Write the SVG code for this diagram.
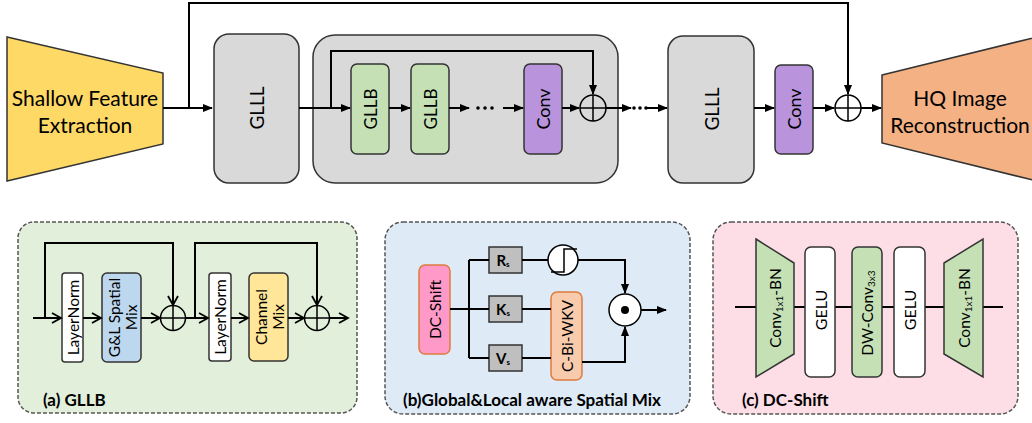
<svg xmlns="http://www.w3.org/2000/svg" width="1032" height="423" viewBox="0 0 1032 423">
<defs>
<marker id="ah" markerWidth="10" markerHeight="8" refX="9" refY="4" orient="auto" markerUnits="userSpaceOnUse"><path d="M0,0 L10,4 L0,8 z" fill="#000"/></marker>
<marker id="chev" markerWidth="12" markerHeight="12" refX="10" refY="6" orient="auto" markerUnits="userSpaceOnUse"><path d="M1,1 L10,6 L1,11" fill="none" stroke="#000" stroke-width="1.8"/></marker>
<style>
.ln{fill:none;stroke:#000;stroke-width:2}
.box{stroke:#333;stroke-width:1.5}
.t{font-family:Lato,"Open Sans",sans-serif;fill:#000;text-anchor:middle;dominant-baseline:central}
.lab{font-family:Lato,"Open Sans",sans-serif;font-weight:bold;fill:#000;font-size:17px}
.panel{stroke:#555;stroke-width:1.5;stroke-dasharray:4,2}
.gray{fill:#D9D9D9}
.green{fill:#C5E0B4}
.purple{fill:#B994DC}
.circ{fill:none;stroke:#000;stroke-width:1.5}
</style>
</defs>

<!-- top row -->
<g id="shallow"><polygon points="7,37 163,73 163,144 7,181" fill="#FFD966" class="box"/>
<text class="t" x="85" y="97" font-size="21">Shallow Feature</text>
<text class="t" x="85" y="124" font-size="21">Extraction</text></g>
<g id="glll1"><rect x="214" y="34" width="85" height="149" rx="15" class="box gray"/>
<text class="t" font-size="19" transform="translate(256,108) rotate(-90)">GLLL</text></g>
<g id="group"><rect x="313" y="35" width="305" height="148" rx="22" class="box gray"/></g>
<g id="gllb1"><rect x="351" y="64" width="38" height="90" rx="6" class="box green"/>
<text class="t" font-size="17" transform="translate(370,109) rotate(-90)">GLLB</text></g>
<g id="gllb2"><rect x="411" y="64" width="38" height="90" rx="6" class="box green"/>
<text class="t" font-size="17" transform="translate(430,109) rotate(-90)">GLLB</text></g>
<g id="conv1"><rect x="524" y="64" width="38" height="90" rx="6" class="box purple"/>
<text class="t" font-size="18" transform="translate(543,109) rotate(-90)">Conv</text></g>
<g id="glll2"><rect x="668" y="36" width="86" height="147" rx="15" class="box gray"/>
<text class="t" font-size="19" transform="translate(711,109) rotate(-90)">GLLL</text></g>
<g id="conv2"><rect x="775" y="65" width="38" height="89" rx="6" class="box purple"/>
<text class="t" font-size="18" transform="translate(794,109) rotate(-90)">Conv</text></g>
<g id="hq"><polygon points="882,75 1045,35 1045,183 882,143" fill="#F4B183" class="box"/>
<text class="t" x="960" y="97" font-size="21">HQ Image</text>
<text class="t" x="960" y="124" font-size="21">Reconstruction</text></g>
<g id="add1"><circle cx="593" cy="108" r="13" class="circ"/><path d="M580,108 H606 M593,95 V121" stroke="#000" stroke-width="1.5"/></g>
<g id="add2"><circle cx="848" cy="108" r="13" class="circ"/><path d="M835,108 H861 M848,95 V121" stroke="#000" stroke-width="1.5"/></g>

<g id="connectors-top">
<path class="ln" d="M163,108 H212" marker-end="url(#ah)"/>
<path class="ln" d="M189,108 V3 H848 V94" marker-end="url(#ah)"/>
<path class="ln" d="M299,108 H350" marker-end="url(#ah)"/>
<path class="ln" d="M331,108 V51 H593 V94" marker-end="url(#ah)"/>
<path class="ln" d="M389,108 H410" marker-end="url(#ah)"/>
<path class="ln" d="M449,108 H469" marker-end="url(#ah)"/>
<circle cx="478" cy="108" r="1.8"/><circle cx="485" cy="108" r="1.8"/><circle cx="492" cy="108" r="1.8"/>
<path class="ln" d="M503,108 H523" marker-end="url(#ah)"/>
<path class="ln" d="M562,108 H579" marker-end="url(#ah)"/>
<path class="ln" d="M606,108 H631" marker-end="url(#ah)"/>
<circle cx="634" cy="108" r="1.8"/><circle cx="640" cy="108" r="1.8"/><circle cx="646" cy="108" r="1.8"/>
<path class="ln" d="M646,108 H667" marker-end="url(#ah)"/>
<path class="ln" d="M754,108 H774" marker-end="url(#ah)"/>
<path class="ln" d="M813,108 H834" marker-end="url(#ah)"/>
<path class="ln" d="M861,108 H881" marker-end="url(#ah)"/>
</g>

<!-- panel a -->
<g id="panel-a"><rect x="18" y="222" width="339" height="191" rx="16" fill="#E2EFDA" class="panel"/>
<text class="lab" x="43" y="406">(a) GLLB</text></g>
<g id="ln1"><rect x="62" y="273" width="21" height="89" rx="3" fill="#fff" class="box"/>
<text class="t" font-size="15.5" transform="translate(72.5,317.5) rotate(-90)">LayerNorm</text></g>
<g id="glmix"><rect x="102" y="273" width="39" height="89" rx="5" fill="#BDD7EE" class="box"/>
<text class="t" font-size="15.5" transform="translate(121.5,317.5) rotate(-90)"><tspan x="0" dy="-8">G&amp;L Spatial</tspan><tspan x="0" dy="17">Mix</tspan></text></g>
<g id="adda1"><circle cx="173" cy="318" r="12.5" class="circ"/><path d="M160.5,318 H185.5 M173,305.5 V330.5" stroke="#000" stroke-width="1.5"/></g>
<g id="ln2"><rect x="209" y="273" width="22" height="88" rx="3" fill="#fff" class="box"/>
<text class="t" font-size="15.5" transform="translate(220,317) rotate(-90)">LayerNorm</text></g>
<g id="chmix"><rect x="249" y="273" width="39" height="88" rx="5" fill="#FFE699" class="box"/>
<text class="t" font-size="15.5" transform="translate(268.5,317) rotate(-90)"><tspan x="0" dy="-8">Channel</tspan><tspan x="0" dy="17">Mix</tspan></text></g>
<g id="adda2"><circle cx="317" cy="318" r="12.5" class="circ"/><path d="M304.5,318 H329.5 M317,305.5 V330.5" stroke="#000" stroke-width="1.5"/></g>
<g id="connectors-a">
<path class="ln" d="M33,318 H61" marker-end="url(#chev)"/>
<path class="ln" d="M45,318 V243 H173 V305" marker-end="url(#chev)"/>
<path class="ln" d="M83,318 H101" marker-end="url(#chev)"/>
<path class="ln" d="M141,318 H160" marker-end="url(#chev)"/>
<path class="ln" d="M185.5,318 H208" marker-end="url(#chev)"/>
<path class="ln" d="M195,318 V243 H317 V305" marker-end="url(#chev)"/>
<path class="ln" d="M231,318 H248" marker-end="url(#chev)"/>
<path class="ln" d="M288,318 H304" marker-end="url(#chev)"/>
<path class="ln" d="M329.5,318 H348" marker-end="url(#chev)"/>
</g>

<!-- panel b -->
<g id="panel-b"><rect x="385" y="222" width="305" height="192" rx="18" fill="#DEEBF7" class="panel"/>
<text class="lab" x="403" y="406" textLength="258" lengthAdjust="spacingAndGlyphs">(b)Global&amp;Local aware Spatial Mix</text></g>
<g id="dcshift"><rect x="419" y="265" width="31" height="89" rx="6" fill="#FF99C8" stroke="#E07B3C" stroke-width="1.5"/>
<text class="t" font-size="15.5" transform="translate(434.5,309.5) rotate(-90)">DC-Shift</text></g>
<g id="rs"><rect x="489" y="247" width="33" height="26" fill="#BFBFBF" class="box"/>
<text class="t" font-size="15" font-weight="bold" x="503" y="260">R<tspan font-size="8" dy="4">s</tspan></text></g>
<g id="ks"><rect x="489" y="296" width="33" height="26" fill="#BFBFBF" class="box"/>
<text class="t" font-size="15" font-weight="bold" x="503" y="309">K<tspan font-size="8" dy="4">s</tspan></text></g>
<g id="vs"><rect x="489" y="345" width="33" height="26" fill="#BFBFBF" class="box"/>
<text class="t" font-size="15" font-weight="bold" x="503" y="358">V<tspan font-size="8" dy="4">s</tspan></text></g>
<g id="step"><circle cx="563" cy="260" r="15" fill="#fff" stroke="#000" stroke-width="1.5"/>
<path d="M551,272 H564 V249 H577" fill="none" stroke="#000" stroke-width="1.5"/></g>
<g id="cbiwkv"><rect x="551" y="292" width="31" height="88" rx="6" fill="#F8CBAD" stroke="#E07B3C" stroke-width="1.5"/>
<text class="t" font-size="15.5" transform="translate(566.5,336) rotate(-90)">C-Bi-WKV</text></g>
<g id="mul"><circle cx="625" cy="310" r="16" fill="#fff" stroke="#000" stroke-width="1.5"/><circle cx="625" cy="310" r="4" fill="#000"/></g>
<g id="connectors-b">
<path class="ln" d="M450,309 H489"/>
<path class="ln" d="M469,260 V358"/>
<path class="ln" d="M469,260 H489 M469,358 H489"/>
<path class="ln" d="M522,260 H548"/>
<path class="ln" d="M578,260 H625 V293" marker-end="url(#ah)"/>
<path class="ln" d="M522,309 H551"/>
<path class="ln" d="M522,358 H551"/>
<path class="ln" d="M582,362 H625 V327" marker-end="url(#ah)"/>
<path class="ln" d="M641,310 H666" marker-end="url(#ah)"/>
</g>

<!-- panel c -->
<g id="panel-c"><rect x="713" y="222" width="305" height="192" rx="18" fill="#FDDDE6" class="panel"/>
<text class="lab" x="742" y="406">(c) DC-Shift</text></g>
<g id="connectors-c"><path class="ln" d="M735,307 H1003"/></g>
<g id="conv1x1a"><polygon points="756,239 794,263 794,354 756,377" class="box green"/>
<text class="t" font-size="15.5" transform="translate(775,308) rotate(-90)">Conv<tspan font-size="10" dy="4">1x1</tspan><tspan dy="-4">-BN</tspan></text></g>
<g id="gelu1"><rect x="805" y="247" width="30" height="130" rx="6" fill="#fff" class="box"/>
<text class="t" font-size="16" transform="translate(820,310) rotate(-90)">GELU</text></g>
<g id="dwconv"><rect x="852" y="247" width="30" height="130" rx="6" class="box green"/>
<text class="t" font-size="15.5" transform="translate(867,313) rotate(-90)">DW-Conv<tspan font-size="10" dy="4">3x3</tspan></text></g>
<g id="gelu2"><rect x="894" y="247" width="31" height="130" rx="6" fill="#fff" class="box"/>
<text class="t" font-size="16" transform="translate(909.5,310) rotate(-90)">GELU</text></g>
<g id="conv1x1b"><polygon points="944,263 983,239 983,377 944,354" class="box green"/>
<text class="t" font-size="15.5" transform="translate(963.5,308) rotate(-90)">Conv<tspan font-size="10" dy="4">1x1</tspan><tspan dy="-4">-BN</tspan></text></g>
</svg>
